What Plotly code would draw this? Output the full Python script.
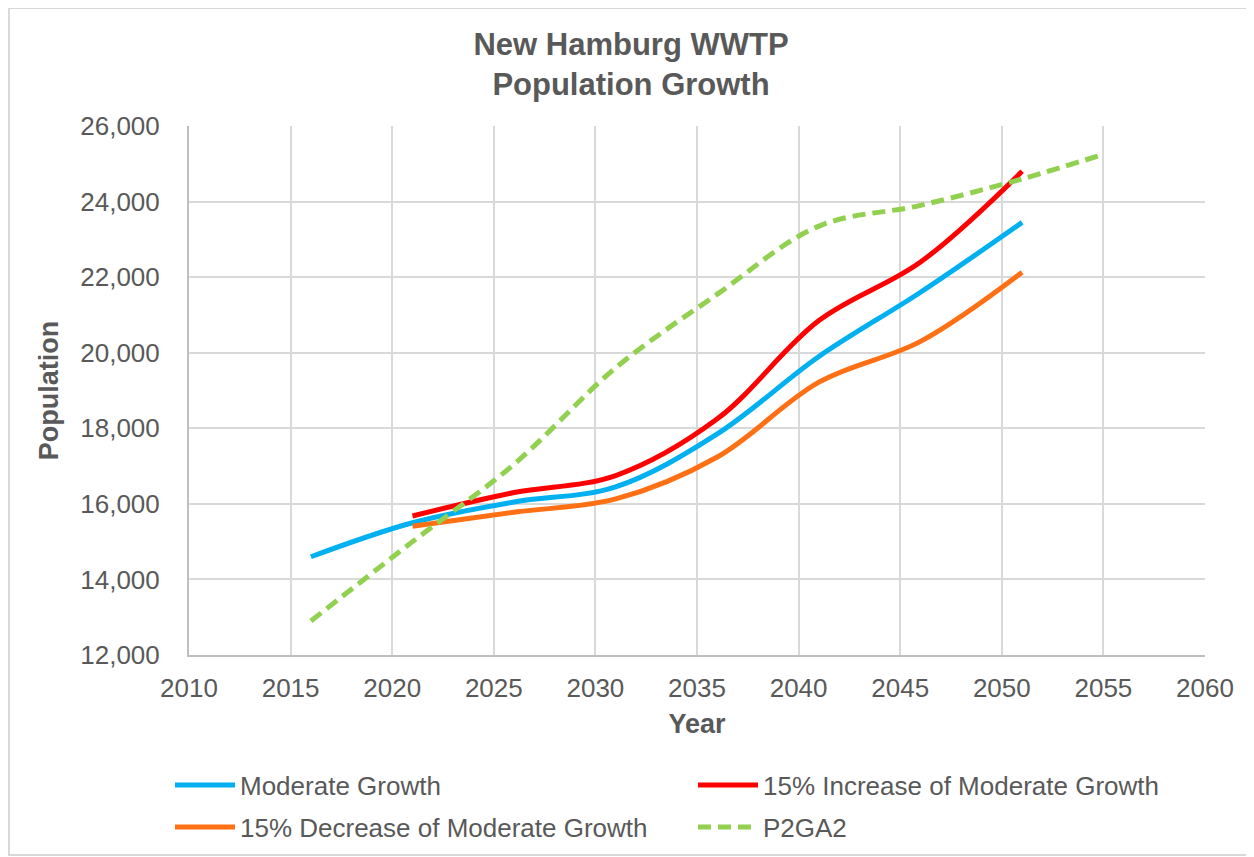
import plotly.graph_objects as go

years_mod = [2016, 2021, 2026, 2031, 2036, 2041, 2046, 2051]
moderate = [14600, 15500, 16050, 16450, 17850, 19900, 21600, 23450]

years_sc = [2021, 2026, 2031, 2036, 2041, 2046, 2051]
increase = [15680, 16300, 16750, 18250, 20850, 22400, 24800]
decrease = [15410, 15780, 16130, 17240, 19220, 20300, 22130]

years_p2 = [2016, 2021, 2026, 2031, 2036, 2041, 2046, 2051, 2055]
p2ga2 = [12900, 15000, 17050, 19600, 21550, 23350, 23900, 24600, 25250]

x_ticks = list(range(2010, 2061, 5))
y_ticks = list(range(12000, 26001, 2000))

FONT = "Liberation Sans, Arial, sans-serif"
GRAY = "#595959"
GRID = "#d9d9d9"

# page is offset by 8px body margin; figure spans screen 8..1254 / 8..857
W, H = 1246, 849
L, T, PW, PH = 181, 118, 1016, 529

fig = go.Figure()
fig.add_trace(go.Scatter(x=years_mod, y=moderate, name="Moderate Growth", mode="lines", legend="legend",
                         line=dict(color="#00B0F0", width=5, shape="spline", smoothing=1)))
fig.add_trace(go.Scatter(x=years_sc, y=increase, name="15% Increase of Moderate Growth", mode="lines",
                         legend="legend",
                         line=dict(color="#FF0000", width=5, shape="spline", smoothing=1)))
fig.add_trace(go.Scatter(x=years_sc, y=decrease, name="15% Decrease of Moderate Growth", mode="lines",
                         legend="legend2",
                         line=dict(color="#FF7014", width=5, shape="spline", smoothing=1)))
fig.add_trace(go.Scatter(x=years_p2, y=p2ga2, name="P2GA2", mode="lines", legend="legend2",
                         line=dict(color="#92D050", width=5, shape="spline", smoothing=1, dash="13px,7px")))

def py(screen_y):
    return (T + PH - (screen_y - 8)) / PH

def px(screen_x):
    return ((screen_x - 8) - L) / PW

leg_common = dict(orientation="h", xanchor="left", yanchor="middle",
                  entrywidth=448, entrywidthmode="pixels", font=dict(size=26, color=GRAY, family=FONT),
                  traceorder="normal", itemwidth=60, bgcolor="rgba(0,0,0,0)")

fig.update_layout(
    width=W, height=H,
    margin=dict(l=L, r=W - L - PW, t=T, b=H - T - PH, autoexpand=False),
    paper_bgcolor="white", plot_bgcolor="white",
    font=dict(family=FONT, color=GRAY, size=26),
    title=dict(text="<b>New Hamburg WWTP<br>Population Growth</b>", x=0.5, xref="container", xanchor="center",
               yref="container", y=1 - 47 / H, yanchor="top", font=dict(size=31, color=GRAY, family=FONT)),
    showlegend=True,
    legend=dict(x=px(170), y=py(785), **leg_common),
    legend2=dict(x=px(170), y=py(827), **leg_common),
)
fig.update_xaxes(range=[2010, 2060], tickvals=x_ticks, showgrid=True, gridcolor=GRID, gridwidth=2,
                 showline=True, linecolor="#bfbfbf", linewidth=2, ticks="", zeroline=False,
                 ticklabelstandoff=9,
                 title=dict(text="<b>Year</b>", font=dict(size=27, color=GRAY), standoff=12),
                 tickfont=dict(size=26, color=GRAY))
fig.update_yaxes(range=[12000, 26000], tickvals=y_ticks, tickformat=",d", showgrid=True, gridcolor=GRID,
                 gridwidth=2, showline=True, linecolor="#bfbfbf", linewidth=2, ticks="", zeroline=False,
                 ticklabelstandoff=22,
                 title=dict(text="<b>Population</b>", font=dict(size=27, color=GRAY), standoff=14),
                 tickfont=dict(size=26, color=GRAY))

fig.add_shape(type="rect", xref="paper", yref="paper",
              x0=px(9), x1=px(1252), y0=py(855), y1=py(8),
              line=dict(color=GRID, width=2), fillcolor="rgba(0,0,0,0)", layer="below")

fig.write_html("out.html")
